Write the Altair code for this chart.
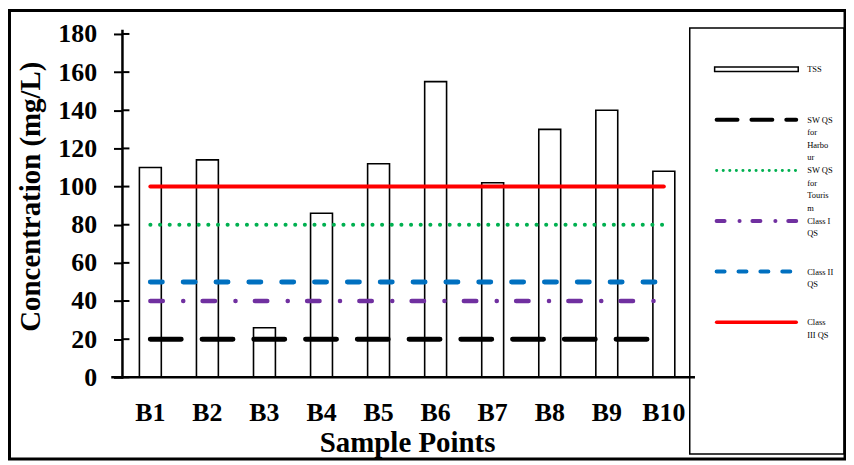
import altair as alt
import pandas as pd

# ---------------- data ----------------
samples = ["B1", "B2", "B3", "B4", "B5", "B6", "B7", "B8", "B9", "B10"]
tss = [110, 114, 26, 86, 112, 155, 102, 130, 140, 108]

series_names = ["SW QS for Harbour", "SW QS for Tourism", "Class I QS", "Class II QS", "Class III QS"]
series_values = [20, 80, 40, 50, 100]
series_colors = ["#000000", "#00B050", "#7030A0", "#0070C0", "#FF0000"]

legend_names = ["TSS"] + series_names
legend_labels = ["TSS", "SW QS\nfor\nHarbo\nur", "SW QS\nfor\nTouris\nm", "Class I\nQS", "Class II\nQS", "Class\nIII QS"]

y_ticks = [0, 20, 40, 60, 80, 100, 120, 140, 160, 180]

# ---------------- styles ----------------
series_widths = [5, 4, 4.5, 5, 4]
series_dashes = [[31, 21], [0.1, 9.6], [12.5, 20.5, 0.1, 19.4], [12, 21], [1000, 1]]
legend_widths = [4, 3, 4, 4, 3.5]
legend_dashes = [[21, 14], [0.1, 6.5], [8, 15, 0.1, 12.9], [8, 14], [1000, 1]]

FONT = "Liberation Serif"

bars_df = pd.DataFrame({"Sample": samples, "Conc": tss, "idx": list(range(len(samples)))})
lines_df = pd.DataFrame(
    [{"Sample": s, "idx": i, "Series": n, "Conc": v}
     for n, v in zip(series_names, series_values)
     for i, s in enumerate(samples)]
)
legend_df = pd.DataFrame({"Entry": legend_names, "Label": legend_labels})
ticks_df = pd.DataFrame({"Conc": y_ticks})
deco_df = pd.DataFrame({"deco": ["frame"]})

x_scale = alt.Scale(domain=samples, paddingInner=0.616, paddingOuter=0.297)
y_scale = alt.Scale(domain=[0, 180], nice=False)

x_axis = alt.Axis(title="Sample Points", labelAngle=0, ticks=False, domain=False,
                  labelFont=FONT, labelFontSize=26, labelFontWeight="bold",
                  labelColor="black", labelPadding=22,
                  titleFont=FONT, titleFontSize=29, titleFontWeight="bold",
                  titleColor="black", titlePadding=4)
y_axis = alt.Axis(title="Concentration (mg/L)", values=y_ticks, grid=False, domain=False,
                  labelFont=FONT, labelFontSize=26, labelFontWeight="bold",
                  labelColor="black", labelPadding=17,
                  tickColor="black", tickWidth=2, tickSize=9,
                  titleFont=FONT, titleFontSize=29, titleFontWeight="bold",
                  titleColor="black", titlePadding=12, titleY=163)

X = alt.X("Sample:N", scale=x_scale, sort=samples, axis=x_axis)
Y = alt.Y("Conc:Q", scale=y_scale, axis=y_axis)

bars = alt.Chart(bars_df).mark_bar(fill="white", stroke="black", strokeWidth=1.6).encode(x=X, y=Y)

tick_ext = alt.Chart(ticks_df).mark_rule(stroke="black", strokeWidth=2, strokeDash=[100, 1],
                                         strokeCap="butt").encode(
    y=Y, x=alt.value(0), x2=alt.value(7)
)

line_layers = []
for name, col, w, d in zip(series_names, series_colors, series_widths, series_dashes):
    line_layers.append(
        alt.Chart(lines_df).transform_filter(alt.datum.Series == name)
        .mark_line(color=col, strokeWidth=w, strokeDash=d, strokeCap="round")
        .encode(x=X, y=Y, order=alt.Order("idx:Q"))
    )

main = alt.layer(bars, *line_layers, tick_ext)

leg_y = alt.Y("Entry:N", scale=alt.Scale(type="point", domain=legend_names, range=[10, 315]), axis=None)

# axis lines drawn as stroked (unfilled) rectangles along the plot edges
y_line = alt.Chart(deco_df).mark_rect(filled=False, stroke="black", strokeWidth=2.5).encode(
    x=alt.value(0), x2=alt.value(0.01), y=alt.value(-3), y2=alt.value(345)
)
x_line = alt.Chart(deco_df).mark_rect(filled=False, stroke="black", strokeWidth=2.5).encode(
    x=alt.value(-10), x2=alt.value(574), y=alt.value(345), y2=alt.value(345.01)
)

leg_layers = []
leg_layers.append(
    alt.Chart(legend_df).transform_filter(alt.datum.Entry == "TSS")
    .mark_point(shape="M-1,-0.055L1,-0.055L1,0.055L-1,0.055Z", size=84 * 84, filled=True,
                fill="white", stroke="black", strokeWidth=1.5, opacity=1)
    .encode(x=alt.value(637), y=leg_y)
)
for name, col, w, d in zip(series_names, series_colors, legend_widths, legend_dashes):
    leg_layers.append(
        alt.Chart(legend_df).transform_filter(alt.datum.Entry == name)
        .mark_rule(color=col, strokeWidth=w, strokeDash=d, strokeCap="round")
        .encode(x=alt.value(597), x2=alt.value(677), y=leg_y)
    )
leg_layers.append(
    alt.Chart(legend_df).mark_text(align="left", baseline="top", lineBreak="\n", font=FONT,
                                   fontSize=8.5, lineHeight=12.5, dy=-4, color="black")
    .encode(x=alt.value(688), y=leg_y, text="Label:N")
)
legend_box = alt.Chart(deco_df).mark_rect(filled=False, stroke="black", strokeWidth=1.5).encode(
    x=alt.value(570), x2=alt.value(725), y=alt.value(-6), y2=alt.value(422)
)
legend = alt.layer(legend_box, y_line, x_line, *leg_layers)

outer = alt.Chart(deco_df).mark_rect(filled=False, stroke="black", strokeWidth=3).encode(
    x=alt.value(-113.5), x2=alt.value(726), y=alt.value(-23.5), y2=alt.value(427)
)

chart = (
    alt.layer(main, legend, outer)
    .resolve_scale(y="independent")
    .properties(
        width=572, height=345,
        autosize=alt.AutoSizeParams(type="none"),
        padding={"left": 115, "top": 25, "right": 155, "bottom": 85},
        background="white",
    )
    .configure_view(stroke=None)
)

chart.save("out.html", embed_options={"renderer": "svg", "actions": False})
